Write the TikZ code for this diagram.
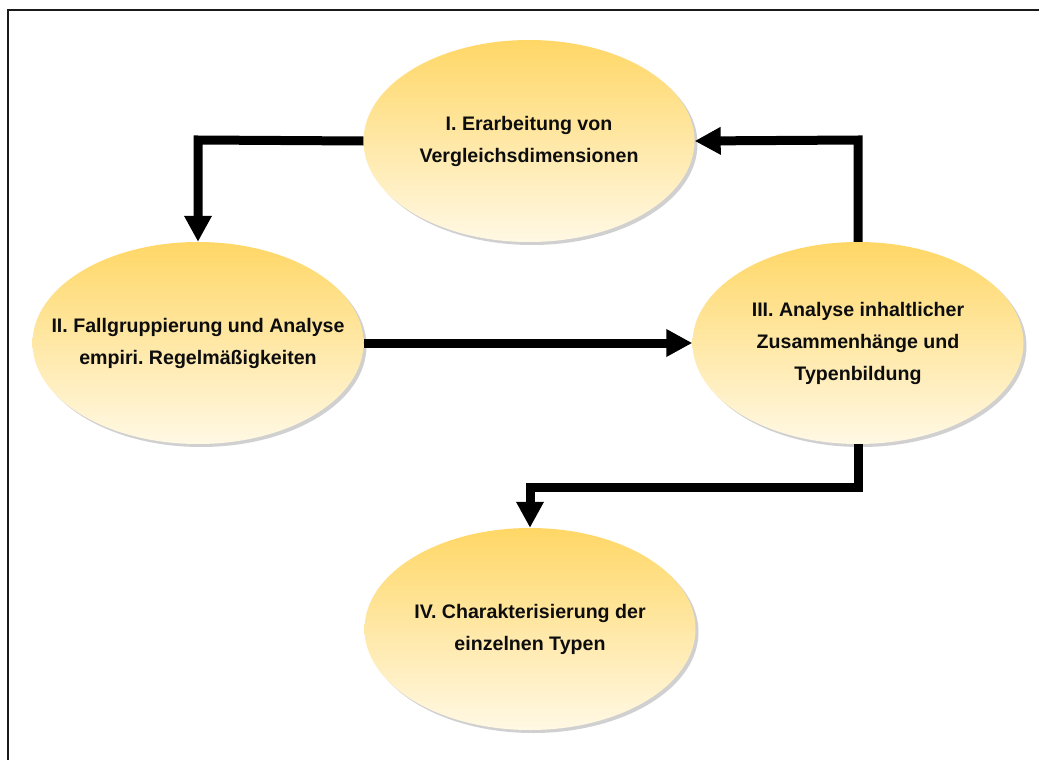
\documentclass[tikz,border=0pt]{standalone}
\usepackage{fontspec}
\setmainfont{Liberation Sans}
\frenchspacing
\usetikzlibrary{arrows.meta,shadows,shapes.geometric}
\definecolor{goldtop}{HTML}{FFD766}
\definecolor{goldmid}{HTML}{FFE8A6}
\definecolor{goldbot}{HTML}{FFF8E4}
\definecolor{framecol}{HTML}{1A1A1A}
\tikzset{
  stage/.style={ellipse, inner xsep=-60pt, inner ysep=0pt,
    minimum width=331pt, minimum height=202pt,
    top color=goldtop, bottom color=goldbot, middle color=goldmid,
    drop shadow={shadow xshift=3pt, shadow yshift=-3pt, opacity=0.3, fill=black!60},
    align=center, text=black!95,
    font=\bfseries\fontsize{19.6}{32}\selectfont},
  flow/.style={line width=9pt, line join=miter, draw=black,
    -{Triangle[width=26pt,length=26pt]}}
}
\begin{document}
\begin{tikzpicture}[x=1pt,y=-1pt]
\useasboundingbox (0,0) rectangle (1039,760);
\fill[white] (0,0) rectangle (1039,760);
\draw[framecol, line width=1.5pt] (8,760) -- (8,10) -- (1039,10);
\node[stage] (e1) at (529,141) {I. Erarbeitung von\\Vergleichsdimensionen};
\node[stage] (e2) at (198,343) {II. Fallgruppierung und Analyse\\empiri. Regelmäßigkeiten};
\node[stage] (e3) at (858,343) {III. Analyse inhaltlicher\\Zusammenhänge und\\Typenbildung};
\node[stage] (e4) at (530,629) {IV. Charakterisierung der\\einzelnen Typen};
\coordinate (c1) at (198,140);
\coordinate (c3) at (858,140);
\coordinate (c4a) at (858,487);
\coordinate (c4b) at (530,487);
\draw[flow] (e1.west) -- (c1) -- (e2.north);
\draw[flow] (e2.east) -- (e3.west);
\draw[flow] (e3.north) -- (c3) -- (e1.east);
\draw[flow] (e3.south) -- (c4a) -- (c4b) -- (e4.north);
\end{tikzpicture}
\end{document}
